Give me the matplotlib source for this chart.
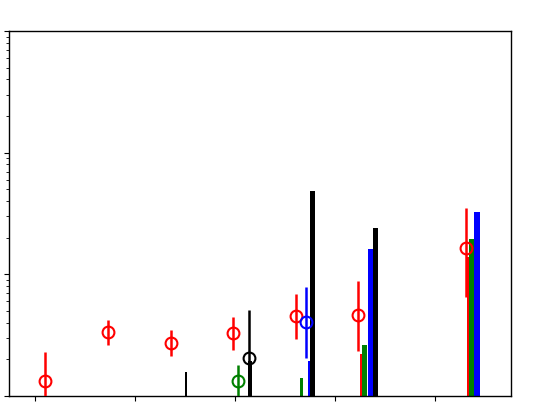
import numpy as np
import matplotlib
matplotlib.use("Agg")
import matplotlib.pyplot as plt

# ---- data ----
# open-circle points with asymmetric error bars (value, upper bound, lower bound)
red_x = [0.10, 0.73, 1.36, 1.98, 2.61, 3.23, 4.307]
red_y = [1.33, 3.36, 2.73, 3.29, 4.57, 4.60, 16.4]
red_hi = [2.30, 4.21, 3.49, 4.46, 6.89, 8.81, 35.1]
red_lo = [0.5, 2.62, 2.13, 2.39, 2.94, 2.34, 6.55]

green_x = [2.033]
green_y = [1.33]
green_hi = [1.80]
green_lo = [0.5]

blue_x = [2.71]
blue_y = [4.03]
blue_hi = [7.82]
blue_lo = [2.04]

black_x = [2.137]
black_y = [2.04]
black_hi = [5.09]
black_lo = [0.5]

# thin bars
red_bar_x = [3.275, 4.342]
red_bar_h = [2.21, 13.8]
red_bar_w = [0.05, 0.05]

green_bar_x = [2.6635, 3.298, 4.368]
green_bar_h = [1.40, 2.64, 19.5]
green_bar_w = [0.027, 0.05, 0.05]

blue_bar_x = [2.752, 3.352, 4.42]
blue_bar_h = [1.95, 16.1, 32.3]
blue_bar_w = [0.05, 0.05, 0.057]

black_bar_x = [1.508, 2.148, 2.775, 3.402]
black_bar_h = [1.58, 1.94, 48.0, 24.2]
black_bar_w = [0.02, 0.043, 0.05, 0.05]

xticks = [0, 1, 2, 3, 4]

# ---- plot ----
fig = plt.figure(figsize=(5.39, 4.06), dpi=100)
ax = fig.add_axes([9 / 539, 1 - 397 / 406, (511 - 9) / 539, (397 - 32) / 406])
ax.set_yscale("log")

floor = 0.1
for xs, hs, ws, c in [(red_bar_x, red_bar_h, red_bar_w, "red"),
                      (green_bar_x, green_bar_h, green_bar_w, "green"),
                      (blue_bar_x, blue_bar_h, blue_bar_w, "blue"),
                      (black_bar_x, black_bar_h, black_bar_w, "black")]:
    ax.bar(xs, np.array(hs) - floor, bottom=floor, width=ws, color=c,
           linewidth=0, zorder=2)

for xs, ys, hi, lo, c in [(red_x, red_y, red_hi, red_lo, "red"),
                          (green_x, green_y, green_hi, green_lo, "green"),
                          (blue_x, blue_y, blue_hi, blue_lo, "blue"),
                          (black_x, black_y, black_hi, black_lo, "black")]:
    ys = np.array(ys)
    yerr = [ys - np.array(lo), np.array(hi) - ys]
    ax.errorbar(xs, ys, yerr=yerr, fmt="o", mfc="none", mec=c, ecolor=c,
                ms=8.5, mew=1.5, elinewidth=1.8, capsize=0, zorder=3)

ax.set_xlim(-0.26, 4.76)
ax.set_ylim(1, 1000)
ax.set_xticks(xticks)
ax.set_xticklabels([])
ax.set_yticklabels([], minor=True)
ax.set_yticklabels([])
for s in ax.spines.values():
    s.set_linewidth(1.0)

fig.savefig("out.png", dpi=100)
